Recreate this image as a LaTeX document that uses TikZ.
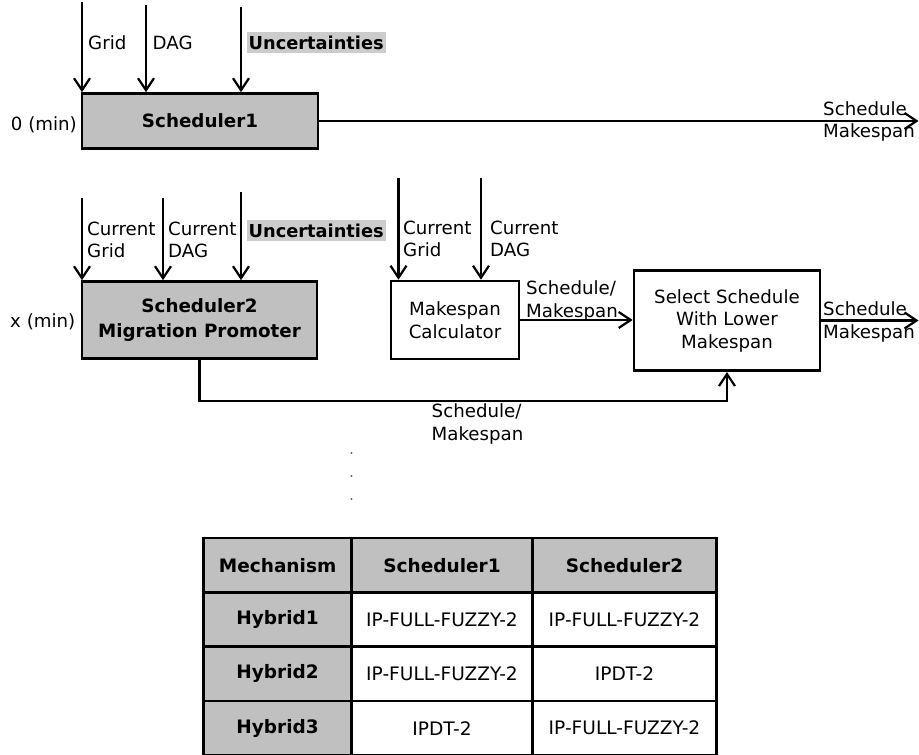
\documentclass[tikz,border=0pt]{standalone}
\usepackage{fontspec}
\setmainfont{DejaVu Sans}
\usetikzlibrary{arrows.meta, positioning, calc}
\definecolor{BoxGray}{RGB}{192,192,192}
\definecolor{TagGray}{RGB}{204,204,204}

\begin{document}
\begin{tikzpicture}[
    x=1pt, y=-1pt,
    font=\fontsize{18.2}{22.5}\selectfont,
    feed/.style={-{Straight Barb[length=12pt, width=16pt]}, line width=2.2pt},
    schedbox/.style={draw, line width=2.6pt, fill=BoxGray, font=\fontsize{18.3}{24.5}\selectfont\bfseries, align=center, inner sep=0pt},
    procbox/.style={draw, line width=2.6pt, fill=white, align=center, inner sep=0pt},
    lbl/.style={align=left, inner sep=0pt, anchor=west},
    tag/.style={fill=TagGray, font=\fontsize{17.8}{20}\selectfont\bfseries, inner sep=0pt, minimum width=139pt, minimum height=21.5pt, anchor=west},
    cell/.style={draw, line width=2.6pt, minimum height=54.3pt, inner sep=0pt},
    headcell/.style={cell, fill=BoxGray, font=\fontsize{18.5}{22.5}\selectfont\bfseries},
    datacell/.style={cell, fill=white, font=\fontsize{18.6}{22.5}\selectfont},
]

\useasboundingbox (0,0) rectangle (919,755);

% ============ 0 (min): Scheduler1 ============
\node[schedbox, minimum width=236pt, minimum height=55pt] (sched1) at (200,121) {Scheduler1};
\node[anchor=east, inner sep=0pt] (t0) at (77,125) {0 (min)};

\coordinate (grid1in) at (82,2);
\coordinate (dag1in) at (146,5);
\coordinate (unc1in) at (241,7);
\draw[feed] (grid1in) -- (grid1in |- sched1.north);
\draw[feed] (dag1in) -- (dag1in |- sched1.north);
\draw[feed] (unc1in) -- (unc1in |- sched1.north);
\node[lbl] (grid1) at (88,43) {Grid};
\node[lbl] (dag1) at (152.5,43) {DAG};
\node[tag] (unc1) at (246.5,42.5) {Uncertainties};

\coordinate (res1end) at (918.5,121);
\draw[feed] (sched1.east) -- (res1end);
\node[lbl] (res1) at (823,121.5) {Schedule\\Makespan};

% ============ x (min): Scheduler2 + Makespan ============
\node[schedbox, minimum width=235pt, minimum height=77pt] (sched2) at (199.5,320) {Scheduler2\\Migration Promoter};
\node[anchor=east, inner sep=0pt] (tx) at (75.5,322) {x (min)};

\coordinate (grid2in) at (82,198);
\coordinate (dag2in) at (163,198);
\coordinate (unc2in) at (241,192);
\draw[feed] (grid2in) -- (grid2in |- sched2.north);
\draw[feed] (dag2in) -- (dag2in |- sched2.north);
\draw[feed] (unc2in) -- (unc2in |- sched2.north);
\node[lbl] (grid2) at (87,240) {Current\\Grid};
\node[lbl] (dag2) at (168,240) {Current\\DAG};
\node[tag] (unc2) at (246.5,230.5) {Uncertainties};

\node[procbox, minimum width=128pt, minimum height=78pt] (calc) at (455,320) {Makespan\\Calculator};
\coordinate (grid3in) at (398.5,178);
\coordinate (dag3in) at (481,178);
\draw[feed] (grid3in) -- (grid3in |- calc.north);
\draw[feed] (dag3in) -- (dag3in |- calc.north);
\node[lbl] (grid3) at (403,239) {Current\\Grid};
\node[lbl] (dag3) at (490,239) {Current\\DAG};

\node[procbox, minimum width=186pt, minimum height=100.5pt] (select) at (727,320.5) {Select Schedule\\With Lower\\Makespan};
\draw[feed] (calc.east) -- (calc.east -| select.west);
\node[lbl] (calcout) at (526,301) {Schedule/\\Makespan};

\coordinate (res2end) at (918.5,320.5);
\draw[feed] (select.east) -- (res2end);
\node[lbl] (res2) at (823,322) {Schedule\\Makespan};

\draw[feed] (sched2.south) -- ++(0,41.5) -| (select.south);
\node[lbl] (schedout) at (431.5,424) {Schedule/\\Makespan};

% puntos
\foreach \y in {453,476,499}
    \fill[gray!80!black] (351.5,\y) circle (1.1pt);

% ============ tabla ============
\node[headcell, minimum width=148.2pt] (mech) at (277.6,565.3) {Mechanism};
\node[headcell, minimum width=180.6pt] (colA) at (442,565.3) {Scheduler1};
\node[headcell, minimum width=184.4pt] (colB) at (624.5,565.3) {Scheduler2};
\foreach \r/\y/\a/\b/\c in {
    1/619.6/Hybrid1/IP-FULL-FUZZY-2/IP-FULL-FUZZY-2,
    2/673.9/Hybrid2/IP-FULL-FUZZY-2/IPDT-2,
    3/728.2/Hybrid3/IPDT-2/IP-FULL-FUZZY-2}{
    \node[headcell, minimum width=148.2pt] (mech\r) at (277.6,\y) {\a};
    \node[datacell, minimum width=180.6pt] (colA\r) at (442,\y) {\b};
    \node[datacell, minimum width=184.4pt] (colB\r) at (624.5,\y) {\c};
}

\end{tikzpicture}
\end{document}
